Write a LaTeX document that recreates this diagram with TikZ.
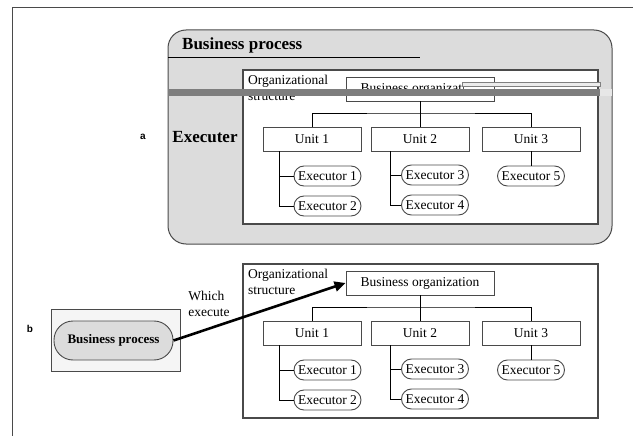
\documentclass[tikz,border=0pt]{standalone}
\usepackage{fontspec}
\setmainfont{Liberation Serif}
\newfontfamily\labelfont{Liberation Sans}
\usetikzlibrary{arrows.meta}
\definecolor{panelgray}{HTML}{DCDCDC}
\definecolor{bandgray}{HTML}{7E7E7E}
\definecolor{edgegray}{HTML}{4A4A4A}
\tikzset{
  frameline/.style={draw=edgegray, line width=1.1pt},
  orgbox/.style={draw=edgegray, line width=0.9pt, fill=white, minimum width=148pt, minimum height=24pt, inner sep=0pt, font=\fontsize{13.5}{15}\selectfont},
  unitbox/.style={draw=edgegray, line width=0.9pt, fill=white, minimum width=98pt, minimum height=24pt, inner sep=0pt, font=\fontsize{13.5}{15}\selectfont},
  execbox/.style={draw=edgegray, line width=0.9pt, fill=white, rounded corners=10pt, minimum width=67pt, minimum height=20pt, inner sep=0pt, font=\fontsize{13.5}{15}\selectfont},
  link/.style={draw=black, line width=0.8pt},
  plaintext/.style={inner sep=0pt, font=\fontsize{13.5}{16}\selectfont, align=left},
  boldtitle/.style={inner sep=0pt, font=\fontsize{17}{19}\selectfont\bfseries},
  panelletter/.style={inner sep=0pt, font=\labelfont\fontsize{10}{12}\selectfont\bfseries}
}
% organisational chart, drawn with a name prefix and a vertical shift
\newcommand{\orgchart}[1]{%
  \draw[draw=edgegray, line width=1.2pt, fill=white] (243,70) rectangle (598,224);
  \node[plaintext, anchor=north west] (org) at (248,75) {Organizational\\structure};
  \node[orgbox] (bo) at (420,89) {#1};
  \node[unitbox] (u1) at (312,139) {Unit 1};
  \node[unitbox] (u2) at (420,139) {Unit 2};
  \node[unitbox] (u3) at (531,139) {Unit 3};
  \node[execbox] (e1) at (327.5,176) {Executor 1};
  \node[execbox] (e2) at (327.5,206) {Executor 2};
  \node[execbox] (e3) at (435,175) {Executor 3};
  \node[execbox] (e4) at (435,205) {Executor 4};
  \node[execbox] (e5) at (531,176) {Executor 5};
  \coordinate (bus) at (420,113);
  \draw[link] (bo.south) -- (bus);
  \draw[link] (u1.north) |- (bus) -| (u3.north);
  \draw[link] (bus) -- (u2.north);
  \draw[link] (u1.south -| 279,0) |- (e1.west);
  \draw[link] (u1.south -| 279,0) |- (e2.west);
  \draw[link] (u2.south -| 390,0) |- (e3.west);
  \draw[link] (u2.south -| 390,0) |- (e4.west);
  \draw[link] (u3.south) -- (e5.north);
}
\begin{document}
\begin{tikzpicture}[x=1pt, y=-1pt]
\useasboundingbox (0,0) rectangle (633,436);
% page frame
\draw[frameline] (12.5,436) -- (12.5,7.5) -- (633,7.5);

% ---------------- panel a ----------------
\node[panelletter] (la) at (143,137) {a};
\draw[draw=edgegray, line width=1pt, fill=panelgray, rounded corners=18pt] (168,30) rectangle (612,244);
\node[boldtitle, anchor=west] (bptitle) at (182,45) {Business process};
\draw[draw=black, line width=1pt] (168,58) -- (420,58);
\node[boldtitle] (exe) at (205,137) {Executer};
\begin{scope}[name prefix=a-]
  \orgchart{Business organization}
\end{scope}
% the label's last letters are hidden behind the strip
\fill[white] (464,78.3) rectangle (493.3,88.8);
% horizontal band across the upper chart
\fill[bandgray] (168,89) rectangle (600,96.5);
\fill[panelgray!70] (600,89) rectangle (612,96.5);
\draw[draw=gray, line width=0.8pt, fill=gray!15] (462,82.5) rectangle (600,86.5);

% ---------------- panel b ----------------
\node[panelletter] (lb) at (30,329) {b};
\draw[draw=edgegray, line width=0.9pt, fill=gray!8] (51,309) rectangle (180,371);
\node[draw=edgegray, line width=0.9pt, fill=panelgray, rounded corners=19pt,
      minimum width=119pt, minimum height=39pt, inner sep=0pt,
      font=\fontsize{13}{15}\selectfont\bfseries] (bp) at (113.5,340.5) {Business process};
\begin{scope}[shift={(0,194)}, name prefix=b-]
  \orgchart{Business organization}
\end{scope}
\node[plaintext, align=left] (which) at (209,304) {Which\\execute};
\draw[draw=black, line width=2.6pt, -{Stealth[length=11pt, width=10pt, inset=0pt]}] (bp.east) -- (b-bo.west);
\end{tikzpicture}
\end{document}
